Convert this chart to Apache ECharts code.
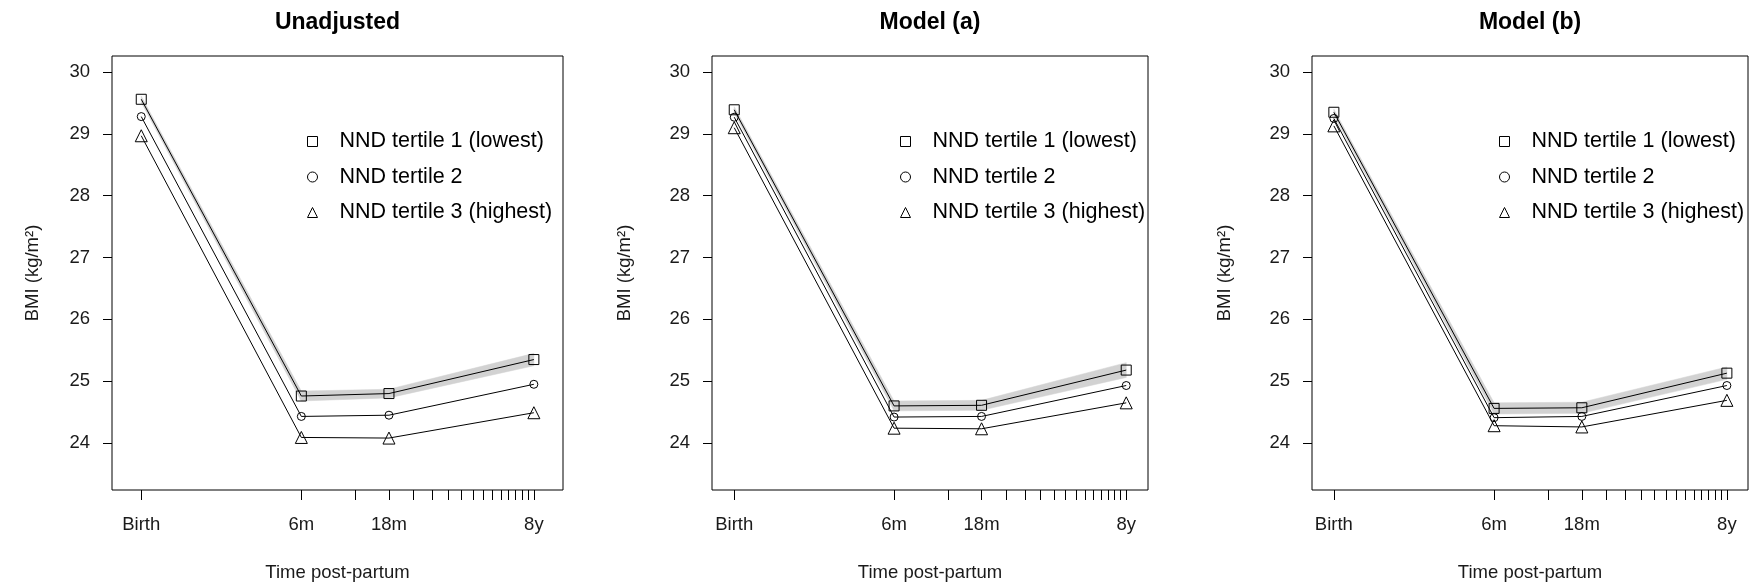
<!DOCTYPE html>
<html>
<head>
<meta charset="utf-8">
<script src="https://cdn.jsdelivr.net/npm/echarts@6/dist/echarts.min.js"></script>
<style>
html,body{margin:0;padding:0;background:#fff;}
#chart{width:1753px;height:587px;}
</style>
</head>
<body>
<div id="chart"></div>
<script>
// ---------- data ----------
var panelTitles = ['Unadjusted', 'Model (a)', 'Model (b)'];
var seriesNames = ['NND tertile 1 (lowest)', 'NND tertile 2', 'NND tertile 3 (highest)'];
var timeYears = [0, 0.5, 1.5, 8];               // Birth, 6m, 18m, 8y
var timeLabels = ['Birth', '6m', '18m', '8y'];
var minorTickYears = [1, 2, 2.5, 3, 3.5, 4, 4.5, 5, 5.5, 6, 6.5, 7, 7.5];
var yTicks = [24, 25, 26, 27, 28, 29, 30];

// Unadjusted
var unadjT1 = [29.56, 24.76, 24.80, 25.35];
var unadjT2 = [29.28, 24.43, 24.45, 24.95];
var unadjT3 = [28.97, 24.09, 24.08, 24.49];
var unadjT1Lo = [29.51, 24.68, 24.73, 25.25];
var unadjT1Hi = [29.61, 24.84, 24.87, 25.45];
// Model (a)
var modelAT1 = [29.39, 24.60, 24.61, 25.18];
var modelAT2 = [29.27, 24.42, 24.43, 24.93];
var modelAT3 = [29.10, 24.24, 24.23, 24.65];
var modelAT1Lo = [29.34, 24.52, 24.53, 25.06];
var modelAT1Hi = [29.44, 24.68, 24.69, 25.30];
// Model (b)
var modelBT1 = [29.35, 24.56, 24.57, 25.13];
var modelBT2 = [29.25, 24.41, 24.43, 24.93];
var modelBT3 = [29.13, 24.28, 24.26, 24.69];
var modelBT1Lo = [29.30, 24.47, 24.48, 25.03];
var modelBT1Hi = [29.40, 24.65, 24.66, 25.23];

// ---------- scale transform for the time axis: ln(years + 0.1) ----------
function tx(y) { return Math.log(y + 0.1); }

var panels = [
  {t1: unadjT1, t2: unadjT2, t3: unadjT3, lo: unadjT1Lo, hi: unadjT1Hi},
  {t1: modelAT1, t2: modelAT2, t3: modelAT3, lo: modelAT1Lo, hi: modelAT1Hi},
  {t1: modelBT1, t2: modelBT2, t3: modelBT3, lo: modelBT1Lo, hi: modelBT1Hi}
];

// ---------- layout ----------
var FONT = 'Liberation Sans, Arial, sans-serif';
var TXT = '#1a1a1a';
var grids = [
  {left: 112, top: 56, width: 451, height: 436},
  {left: 712, top: 56, width: 436, height: 436},
  {left: 1312, top: 56, width: 436, height: 436}
];
var xRanges = [[-2.630, 2.418], [-2.552, 2.336], [-2.547, 2.328]];
var yNameGaps = [70, 78, 78];
var legendPos = [{left: 307, top: 130.5}, {left: 900, top: 130.5}, {left: 1499, top: 130.5}];
var symbols = ['rect', 'circle', 'triangle'];
var symbolSizes = [10, 8, 12];

var majorVals = timeYears.map(tx);
var allTickVals = timeYears.concat(minorTickYears).map(tx).sort(function(a,b){return a-b;});

function labelFor(v) {
  var best = 0, bd = Infinity;
  for (var i = 0; i < majorVals.length; i++) {
    var d = Math.abs(majorVals[i] - v);
    if (d < bd) { bd = d; best = i; }
  }
  return timeLabels[best];
}

var option = {
  animation: false,
  backgroundColor: '#fff',
  title: [], grid: [], xAxis: [], yAxis: [], legend: [], series: []
};

panels.forEach(function (p, k) {
  var g = grids[k];
  option.title.push({
    text: panelTitles[k],
    left: g.left + g.width / 2,
    textAlign: 'center',
    top: 11,
    padding: 0,
    textStyle: {fontFamily: FONT, fontSize: 23, fontWeight: 'bold', color: '#000'}
  });
  option.grid.push({
    left: g.left, top: g.top, width: g.width, height: g.height,
    show: true, borderColor: '#000', borderWidth: 1, backgroundColor: 'transparent'
  });
  option.xAxis.push({
    type: 'value', gridIndex: k,
    min: xRanges[k][0], max: xRanges[k][1],
    name: 'Time post-partum', nameLocation: 'middle', nameGap: 73,
    nameTextStyle: {fontFamily: FONT, fontSize: 18.5, color: TXT},
    axisLine: {show: false, onZero: false},
    splitLine: {show: false},
    axisTick: {show: true, inside: false, length: 10, customValues: allTickVals,
      lineStyle: {color: '#000', width: 1}},
    axisLabel: {show: true, margin: 25, customValues: majorVals,
      fontFamily: FONT, fontSize: 18.5, color: TXT,
      formatter: function (v) { return labelFor(v); }}
  });
  option.yAxis.push({
    type: 'value', gridIndex: k,
    min: 23.24, max: 30.26,
    name: 'BMI (kg/m²)', nameLocation: 'middle', nameGap: yNameGaps[k], nameRotate: 90,
    nameTextStyle: {fontFamily: FONT, fontSize: 18.5, color: TXT},
    axisLine: {show: false, onZero: false},
    splitLine: {show: false},
    axisTick: {show: true, inside: false, length: 9, customValues: yTicks,
      lineStyle: {color: '#000', width: 1}},
    axisLabel: {show: true, margin: 22, customValues: yTicks,
      fontFamily: FONT, fontSize: 18.5, color: TXT}
  });

  // confidence band around tertile 1 (segment polygons)
  var bandData = [];
  for (var i = 0; i < timeYears.length - 1; i++) {
    bandData.push([tx(timeYears[i]), p.lo[i], p.hi[i], tx(timeYears[i + 1]), p.lo[i + 1], p.hi[i + 1]]);
  }
  option.series.push({
    type: 'custom', xAxisIndex: k, yAxisIndex: k, silent: true, z: 1,
    data: bandData,
    encode: {x: [0, 3], y: [1, 2, 4, 5]},
    renderItem: function (params, api) {
      var a1 = api.coord([api.value(0), api.value(1)]);
      var a2 = api.coord([api.value(0), api.value(2)]);
      var b1 = api.coord([api.value(3), api.value(4)]);
      var b2 = api.coord([api.value(3), api.value(5)]);
      return {type: 'polygon', shape: {points: [a1, b1, b2, a2]},
        style: {fill: '#d2d2d2', stroke: '#d2d2d2', lineWidth: 0.5}};
    }
  });

  [p.t1, p.t2, p.t3].forEach(function (vals, s) {
    option.series.push({
      type: 'line', name: seriesNames[s], xAxisIndex: k, yAxisIndex: k, z: 3,
      data: timeYears.map(function (t, i) { return [tx(t), vals[i]]; }),
      symbol: symbols[s], symbolSize: symbolSizes[s], showSymbol: true,
      lineStyle: {color: '#000', width: 1},
      itemStyle: {color: 'rgba(255,255,255,0)', borderColor: '#000', borderWidth: 1},
      emphasis: {disabled: true}, silent: true
    });
  });

  option.legend.push({
    orient: 'vertical', left: legendPos[k].left, top: legendPos[k].top,
    padding: 0, itemGap: 13.5, itemWidth: 10, itemHeight: 10,
    selectedMode: false,
    textStyle: {fontFamily: FONT, fontSize: 21.5, color: '#000', lineHeight: 22, padding: [0, 0, 0, 17]},
    itemStyle: {color: 'rgba(255,255,255,0)', borderColor: '#000', borderWidth: 1},
    data: seriesNames.map(function (n, s) { return {name: n, icon: symbols[s]}; })
  });
});

var chart = echarts.init(document.getElementById('chart'), null, {renderer: 'canvas'});
chart.setOption(option);
</script>
</body>
</html>
